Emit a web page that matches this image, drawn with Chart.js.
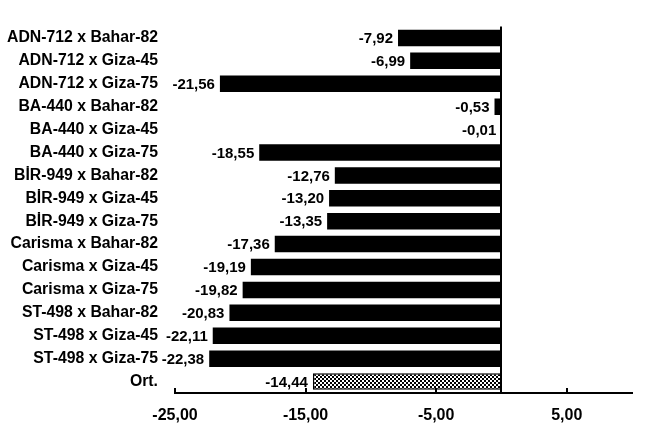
<!DOCTYPE html>
<html>
<head>
<meta charset="utf-8">
<script src="https://cdn.jsdelivr.net/npm/chart.js@4/dist/chart.umd.min.js"></script>
<style>
  html, body { margin: 0; padding: 0; background: #fff; }
  #chart { display: block; }
</style>
</head>
<body>
<canvas id="chart" width="663" height="433"></canvas>
<script>
// ---------- DATA ----------
const crosses = [
  "ADN-712 x Bahar-82", "ADN-712 x Giza-45", "ADN-712 x Giza-75",
  "BA-440 x Bahar-82", "BA-440 x Giza-45", "BA-440 x Giza-75",
  "BİR-949 x Bahar-82", "BİR-949 x Giza-45", "BİR-949 x Giza-75",
  "Carisma x Bahar-82", "Carisma x Giza-45", "Carisma x Giza-75",
  "ST-498 x Bahar-82", "ST-498 x Giza-45", "ST-498 x Giza-75",
  "Ort."
];
const heterosis = [
  -7.92, -6.99, -21.56,
  -0.53, -0.01, -18.55,
  -12.76, -13.20, -13.35,
  -17.36, -19.19, -19.82,
  -20.83, -22.11, -22.38,
  -14.44
];
const xTicks = [-25, -15, -5, 5];
const xMin = -25, xMax = 10;

// ---------- HELPERS ----------
const FONT = "'Liberation Sans', Arial, sans-serif";
const fmt = (v) => v.toFixed(2).replace(".", ",");

function checkerPattern() {
  const c = document.createElement("canvas");
  c.width = 4; c.height = 4;
  const g = c.getContext("2d");
  g.fillStyle = "#fff"; g.fillRect(0, 0, 4, 4);
  g.fillStyle = "#000";
  g.fillRect(0, 0, 2, 2); g.fillRect(2, 2, 2, 2);
  return g.createPattern(c, "repeat");
}
const pattern = checkerPattern();

/* value labels + zero line + inner tick marks */
const decor = {
  id: "decor",
  afterDatasetsDraw(chart) {
    const { ctx, chartArea, scales } = chart;
    const x = scales.x;
    ctx.save();
    // vertical line at zero
    const x0 = Math.round(x.getPixelForValue(0));
    ctx.strokeStyle = "#000";
    ctx.lineWidth = 2;
    ctx.beginPath();
    ctx.moveTo(x0, chartArea.top);
    ctx.lineTo(x0, chartArea.bottom);
    ctx.stroke();
    // tick marks pointing up from axis
    xTicks.forEach((t) => {
      const px = Math.round(x.getPixelForValue(t));
      ctx.beginPath();
      ctx.moveTo(px, chartArea.bottom);
      ctx.lineTo(px, chartArea.bottom - 5);
      ctx.stroke();
    });
    // value labels
    ctx.fillStyle = "#000";
    ctx.font = "bold 15px " + FONT;
    ctx.textAlign = "right";
    ctx.textBaseline = "middle";
    const meta = chart.getDatasetMeta(0);
    meta.data.forEach((bar, i) => {
      ctx.fillText(fmt(heterosis[i]), bar.x - 5, bar.y + 1);
    });
    ctx.restore();
  }
};

// ---------- CHART ----------
new Chart(document.getElementById("chart"), {
  type: "bar",
  data: {
    labels: crosses,
    datasets: [{
      data: heterosis,
      backgroundColor: crosses.map((c) => (c === "Ort." ? pattern : "#000")),
      borderColor: "#000",
      borderWidth: crosses.map((c) => (c === "Ort." ? 1.5 : 0)),
      barPercentage: 0.72,
      categoryPercentage: 1
    }]
  },
  options: {
    indexAxis: "y",
    responsive: false,
    animation: false,
    layout: { padding: { left: 5, right: 31, top: 25, bottom: 10 } },
    plugins: { legend: { display: false }, tooltip: { enabled: false } },
    scales: {
      x: {
        min: xMin,
        max: xMax,
        afterBuildTicks: (s) => { s.ticks = xTicks.map((v) => ({ value: v })); },
        afterFit: (s) => { s.height = 30; },
        grid: { display: false, drawTicks: false },
        border: { display: true, color: "#000", width: 2 },
        ticks: {
          color: "#000",
          padding: 13,
          maxRotation: 0,
          font: { family: FONT, size: 16, weight: "bold" },
          callback: (v) => fmt(v)
        }
      },
      y: {
        afterFit: (s) => { s.width = 170; },
        grid: { display: false, drawTicks: false },
        border: { display: false },
        ticks: {
          color: "#000",
          padding: 17,
          font: { family: FONT, size: 15.8, weight: "bold" }
        }
      }
    }
  },
  plugins: [decor]
});
</script>
</body>
</html>
